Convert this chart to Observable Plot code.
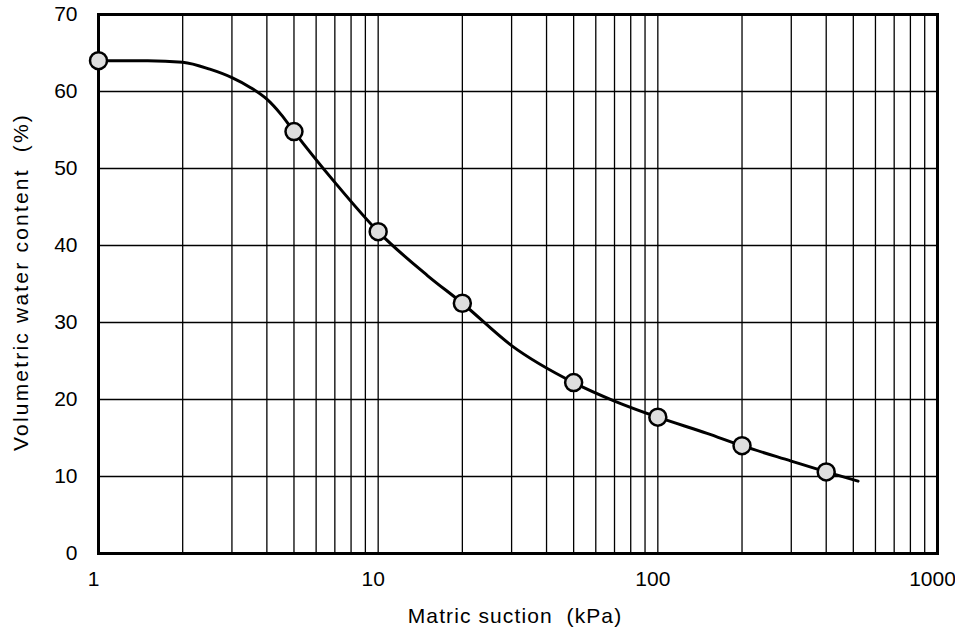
<!DOCTYPE html>
<html>
<head>
<meta charset="utf-8">
<script src="https://cdn.jsdelivr.net/npm/d3@7"></script>
<script src="https://cdn.jsdelivr.net/npm/@observablehq/plot@0.6"></script>
<style>
  html, body { margin: 0; padding: 0; background: #fff; }
  #chart svg { display: block; }
  #chart g[aria-label$="tick label"] text { font-size: 21px; }
</style>
</head>
<body>
<div id="chart"></div>
<script>
// Measured points: matric suction (kPa) and volumetric water content (%)
const suction = [1, 5, 10, 20, 50, 100, 200, 400];
const water   = [64, 54.8, 41.8, 32.5, 22.2, 17.7, 14.0, 10.6];

// Fitted curve
const curveSuction = [1, 1.5, 2, 2.5, 3, 3.5, 4, 4.5, 5, 7, 10, 15, 20, 30, 50, 70, 100, 150, 200, 300, 400, 520];
const curveWater   = [64, 64, 63.8, 62.9, 61.8, 60.5, 59.0, 57.0, 54.8, 48.2, 41.8, 36.1, 32.5, 27.0, 22.2, 19.8, 17.7, 15.6, 14.0, 12.0, 10.6, 9.4];

// Axis ticks and grid
const xTicks = [1, 10, 100, 1000];
const xGrid = [2, 3, 4, 5, 6, 7, 8, 9, 10, 20, 30, 40, 50, 60, 70, 80, 90, 100, 200, 300, 400, 500, 600, 700, 800, 900];
const yTicks = [0, 10, 20, 30, 40, 50, 60, 70];

const xLabel = "Matric suction\u00a0 (kPa)";
const yLabel = "Volumetric water content\u00a0 (%)";

const points = suction.map((s, i) => ({s, w: water[i]}));
const curve = curveSuction.map((s, i) => ({s, w: curveWater[i]}));

const chart = Plot.plot({
  width: 955,
  height: 635,
  marginLeft: 98,
  marginRight: 18,
  marginTop: 14,
  marginBottom: 82,
  style: {fontFamily: "'Liberation Sans', Arial, sans-serif", fontSize: "21px", color: "#000", background: "#fff"},
  x: {type: "log", domain: [1, 1000]},
  y: {domain: [0, 70]},
  marks: [
    Plot.ruleX(xGrid, {stroke: "#000", strokeWidth: 1.3}),
    Plot.ruleY(yTicks, {stroke: "#000", strokeWidth: 1.3}),
    Plot.frame({stroke: "#000", strokeWidth: 3}),
    Plot.axisX({ticks: xTicks, tickSize: 0, tickPadding: 18, tickFormat: d => String(d), label: null, dx: -5}),
    Plot.axisY({ticks: yTicks, tickSize: 0, tickPadding: 21, tickFormat: d => String(d), label: null}),
    Plot.line(curve, {x: "s", y: "w", curve: "monotone-x", stroke: "#000", strokeWidth: 3}),
    Plot.dot(points, {x: "s", y: "w", r: 8.5, fill: "#dedede", stroke: "#000", strokeWidth: 2.5}),
    Plot.text([xLabel], {frameAnchor: "bottom", textAnchor: "middle", dy: 69, dx: -3, fontSize: 21}),
    Plot.text([yLabel], {frameAnchor: "left", textAnchor: "middle", dx: -77, dy: -2, rotate: -90, fontSize: 21})
  ]
});
d3.select(chart).selectAll("text").each(function() {
  const t = this.textContent;
  if (t === xLabel) this.setAttribute("letter-spacing", "1.1");
  if (t === yLabel) this.setAttribute("letter-spacing", "2.2");
});
document.getElementById("chart").appendChild(chart);
</script>
</body>
</html>
